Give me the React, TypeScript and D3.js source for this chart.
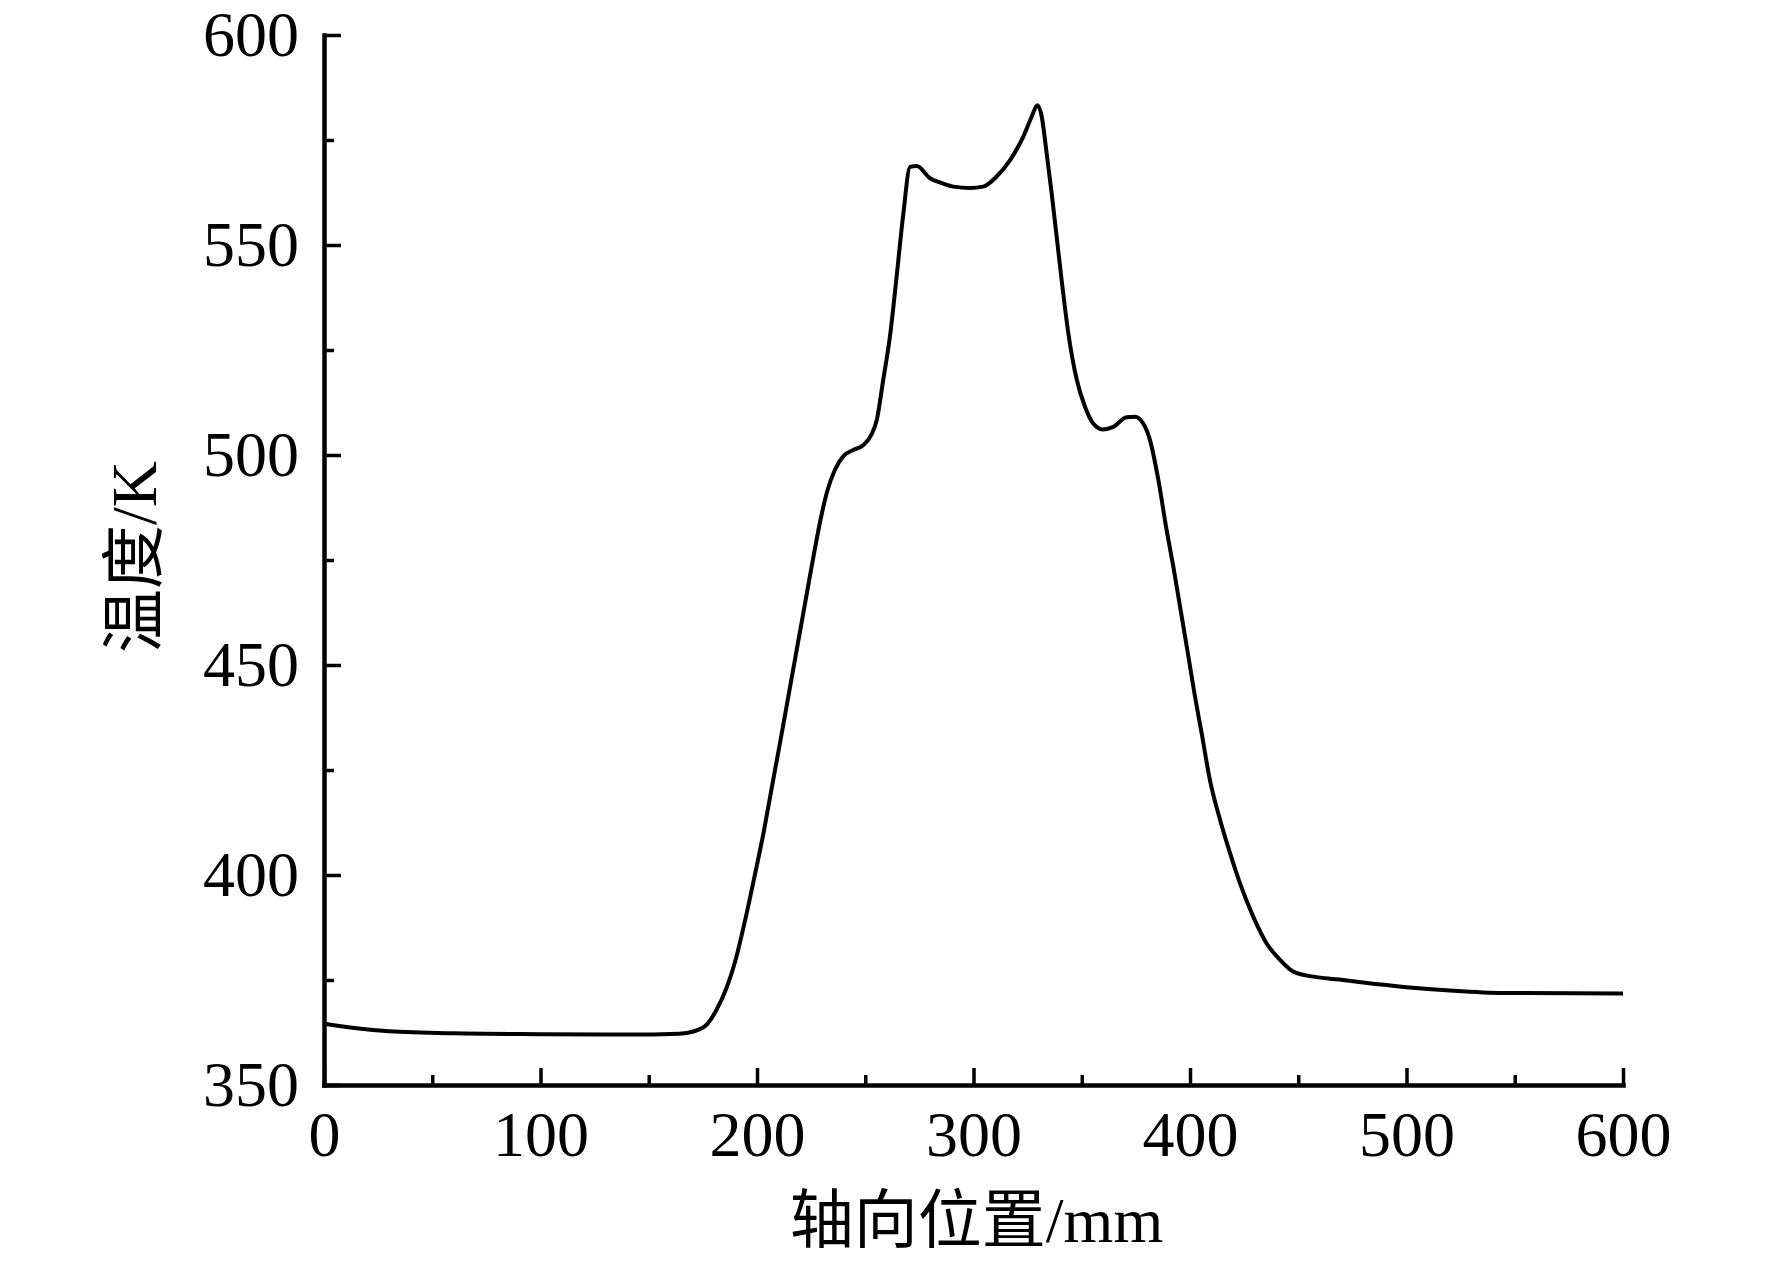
import { useEffect, useRef } from 'react';
import * as d3 from 'd3';

// axial position (mm) and temperature (K)
const positions = [
  0, 15, 30, 60, 100, 140, 164, 171, 177, 181, 186, 190, 194.5, 199, 203,
  207, 211, 215, 219, 223, 226.5, 229.5, 232.5, 236, 240, 244.5, 249, 253,
  255.3, 258.3, 261.4, 264.5, 267.6, 270.7, 273.8, 279.9, 285, 290.7, 298.4,
  304.5, 310.7, 316.9, 323, 326.9, 329.5, 331.5, 333.8, 336.1, 338.4, 340.7,
  343.8, 347.7, 351.5, 355.3, 359.7, 364.6, 370.7, 374.6, 378.4, 381.5, 385.4,
  389.2, 392.3, 395.4, 398.5, 402.3, 405.4, 409.2, 413.9, 418.5, 423.1, 429.2,
  435.4, 441.6, 447.7, 457, 469, 480, 500, 520, 545, 600,
];
const temperatures = [
  364.6, 363.5, 362.8, 362.3, 362.1, 362.0, 362.2, 362.8, 364.5, 367.6, 373.2,
  379.6, 389.2, 400.0, 410.0, 421.3, 432.5, 444.0, 455.5, 467.0, 477.0, 485.0,
  491.5, 496.5, 499.8, 501.2, 502.3, 505.0, 508.3, 517.9, 528.2, 542.5, 557.5,
  568.6, 568.8, 565.9, 564.8, 563.9, 563.6, 563.9, 566.3, 570.2, 575.8, 580.6,
  583.3, 580.6, 571.8, 562.3, 552.0, 541.7, 529.0, 517.9, 511.5, 507.5, 506.1,
  506.7, 509.0, 509.1, 507.5, 503.6, 494.0, 482.1, 473.4, 463.9, 454.4, 442.5,
  433.7, 422.6, 413.1, 405.2, 398.0, 390.1, 383.7, 379.8, 377.0, 375.8, 375.1,
  374.4, 373.3, 372.5, 371.9, 371.8,
];

const xMajorTicks = [0, 100, 200, 300, 400, 500, 600];
const xMinorTicks = [50, 150, 250, 350, 450, 550];
const yMajorTicks = [350, 400, 450, 500, 550, 600];
const yMinorTicks = [375, 425, 475, 525, 575];

const xTitle = '轴向位置/mm';
const yTitle = '温度/K';

export default function App() {
  const svgRef = useRef<SVGSVGElement>(null);

  useEffect(() => {
    if (!svgRef.current) return;
    document.body.style.margin = '0';

    const width = 1772;
    const height = 1264;
    const margin = { top: 35, right: 149, bottom: 179, left: 324 };
    const innerWidth = width - margin.left - margin.right;
    const innerHeight = height - margin.top - margin.bottom;

    const svg = d3.select(svgRef.current);
    svg.selectAll('*').remove();

    const g = svg
      .append('g')
      .attr('transform', `translate(${margin.left},${margin.top})`);

    const x = d3.scaleLinear().domain([0, 600]).range([0, innerWidth]);
    const y = d3.scaleLinear().domain([350, 600]).range([innerHeight, 0]);

    const font = '"Liberation Serif", "Times New Roman", serif';

    // minor ticks first, unlabeled
    g.append('g')
      .attr('transform', `translate(0,${innerHeight})`)
      .call(d3.axisBottom(x).tickValues(xMinorTicks).tickSize(-10).tickSizeOuter(0).tickFormat(() => ''))
      .call((a) => a.select('.domain').remove());
    g.append('g')
      .call(d3.axisLeft(y).tickValues(yMinorTicks).tickSize(-10).tickSizeOuter(0).tickFormat(() => ''))
      .call((a) => a.select('.domain').remove());

    const xAxis = g
      .append('g')
      .attr('transform', `translate(0,${innerHeight})`)
      .call(
        d3.axisBottom(x).tickValues(xMajorTicks).tickSize(-17).tickSizeOuter(0).tickPadding(26)
      );
    const yAxis = g
      .append('g')
      .call(
        d3.axisLeft(y).tickValues(yMajorTicks).tickSize(-17).tickSizeOuter(0).tickPadding(25)
      );

    [xAxis, yAxis].forEach((a) => {
      a.select('.domain').attr('stroke-width', 4.5).attr('stroke-linecap', 'square');
      a.selectAll('text')
        .attr('font-family', font)
        .attr('font-size', 64)
        .attr('fill', '#000');
    });
    g.selectAll('.tick line').attr('stroke', '#000').attr('stroke-width', 3.5);

    const line = d3
      .line<number>()
      .x((_, i) => x(positions[i]))
      .y((d) => y(d))
      .curve(d3.curveMonotoneX);

    g.append('path')
      .datum(temperatures)
      .attr('fill', 'none')
      .attr('stroke', '#000')
      .attr('stroke-width', 4)
      .attr('stroke-linejoin', 'round')
      .attr('d', line);

    const titleFont = '"Liberation Serif", "Noto Sans CJK SC", serif';

    svg
      .append('text')
      .attr('x', margin.left + x(300) + 3)
      .attr('y', 1242)
      .attr('text-anchor', 'middle')
      .attr('font-family', titleFont)
      .attr('font-size', 64)
      .text(xTitle);

    svg
      .append('text')
      .attr('transform', `translate(156,${margin.top + y(475) - 3}) rotate(-90)`)
      .attr('text-anchor', 'middle')
      .attr('font-family', titleFont)
      .attr('font-size', 64)
      .text(yTitle);
  }, []);

  return (
    <svg
      ref={svgRef}
      width={1772}
      height={1264}
      style={{ display: 'block', background: '#fff' }}
    />
  );
}
